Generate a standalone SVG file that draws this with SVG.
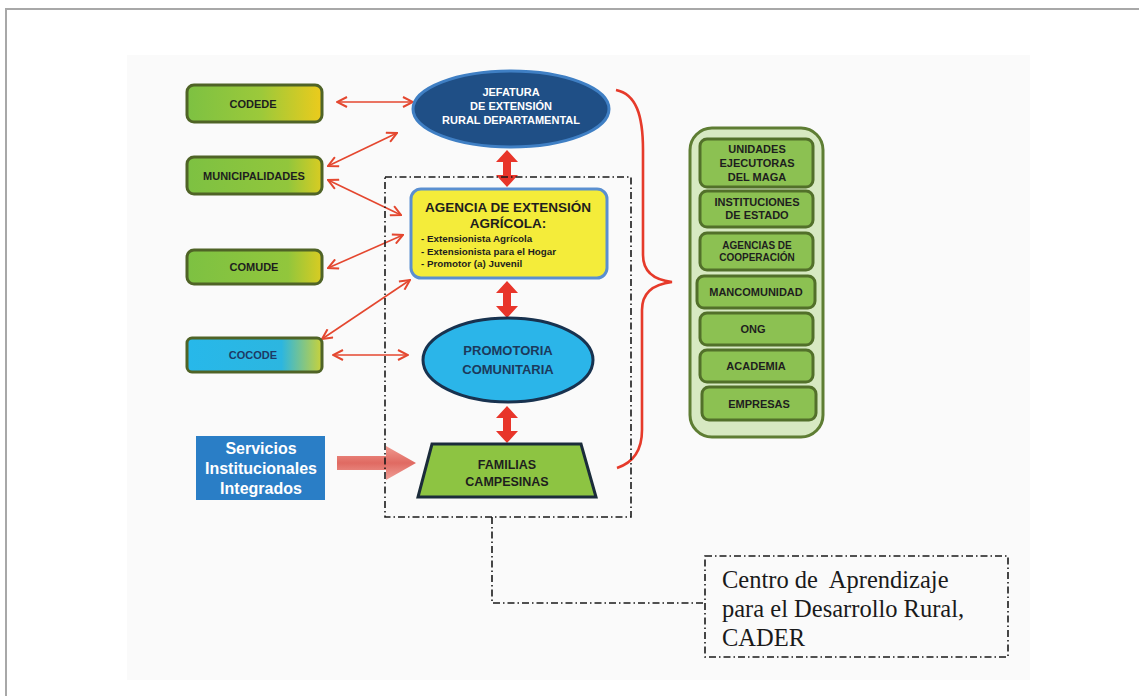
<svg xmlns="http://www.w3.org/2000/svg" width="1139" height="696" viewBox="0 0 1139 696">
<defs>
<style>
.lb{font-family:"Liberation Sans",Arial,sans-serif;font-weight:bold;fill:#1e1e1e;text-anchor:middle}
.sm{font-size:11px}
.gb{stroke:#4f6326;stroke-width:3}
.inner{fill:#8cc152;stroke:#52702a;stroke-width:3}
.thin{fill:none;stroke:#e4472f;stroke-width:1.6;marker-start:url(#ah);marker-end:url(#ah)}
.dd{fill:none;stroke:#1a1a1a;stroke-width:1.6;stroke-dasharray:7 3 1.5 3}
.fat{fill:#e8352a}
.bul{font-family:"Liberation Sans",Arial,sans-serif;font-weight:bold;font-size:9.8px;fill:#1e1e1e}
.cad{font-family:"Liberation Serif","Times New Roman",serif;font-size:24.5px;fill:#1a1a1a}
</style>
<marker id="ah" viewBox="0 0 12 12" refX="11" refY="6" markerWidth="12" markerHeight="12" markerUnits="userSpaceOnUse" orient="auto-start-reverse">
<path d="M1,1 L11,6 L1,11" fill="none" stroke="#e4472f" stroke-width="2"/>
</marker>
<linearGradient id="gy" x1="0" x2="1" y1="0" y2="0">
<stop offset="0" stop-color="#7dc142"/><stop offset="0.55" stop-color="#9cc93a"/><stop offset="1" stop-color="#eccb1c"/>
</linearGradient>
<linearGradient id="gy2" x1="0" x2="1" y1="0" y2="0">
<stop offset="0" stop-color="#7dc142"/><stop offset="0.75" stop-color="#92c63c"/><stop offset="1" stop-color="#d9cc22"/>
</linearGradient>
<linearGradient id="gc" x1="0" x2="1" y1="0" y2="0">
<stop offset="0" stop-color="#27b8ea"/><stop offset="0.7" stop-color="#2cb6e0"/><stop offset="1" stop-color="#c9d23a"/>
</linearGradient>
<linearGradient id="pk" x1="0" x2="0" y1="0" y2="1">
<stop offset="0" stop-color="#f09a90"/><stop offset="0.5" stop-color="#e06a62"/><stop offset="1" stop-color="#f0a098"/>
</linearGradient>
<path id="fatarr" d="M0,0 L11,12 L4,12 L4,25 L11,25 L0,37 L-11,25 L-4,25 L-4,12 L-11,12 Z"/>
</defs>

<rect x="0" y="0" width="1139" height="696" fill="#ffffff"/>
<path d="M6,696 L6,9 L1139,9" fill="none" stroke="#a8a8a8" stroke-width="2"/>
<rect x="127" y="55" width="903" height="625" fill="#fafafa"/>

<g id="connectors">
<line class="thin" x1="337" y1="102" x2="413" y2="102"/>
<line class="thin" x1="328" y1="166" x2="397" y2="133"/>
<line class="thin" x1="328" y1="180" x2="401" y2="215"/>
<line class="thin" x1="328" y1="268" x2="403" y2="235"/>
<line class="thin" x1="322" y1="339" x2="410" y2="280"/>
<line class="thin" x1="333" y1="355" x2="408" y2="355"/>
<use href="#fatarr" class="fat" x="507" y="150"/>
<use href="#fatarr" class="fat" x="507" y="281"/>
<use href="#fatarr" class="fat" x="507" y="406"/>
<path d="M337,456 L386,456 L386,446 L416,463 L386,480 L386,470 L337,470 Z" fill="url(#pk)"/>
<path d="M616,90 C636,94 643,115 643,150 L643,255 C643,272 655,280 672,282 C655,284 642,292 642,310 L642,430 C642,452 632,463 617,468" fill="none" stroke="#e63a2a" stroke-width="2.6"/>
<rect class="dd" x="385" y="177" width="246" height="340"/>
<path class="dd" d="M492,517 L492,603 L705,603"/>
</g>

<g id="codede">
<rect class="gb" x="187" y="85" width="135" height="37" rx="7" fill="url(#gy)"/>
<text class="lb sm" x="253" y="108">CODEDE</text>
</g>
<g id="municipalidades">
<rect class="gb" x="187" y="157" width="135" height="37" rx="7" fill="url(#gy2)"/>
<text class="lb sm" x="254" y="180">MUNICIPALIDADES</text>
</g>
<g id="comude">
<rect class="gb" x="187" y="250" width="135" height="34" rx="7" fill="url(#gy2)"/>
<text class="lb sm" x="254" y="271">COMUDE</text>
</g>
<g id="cocode">
<rect class="gb" x="187" y="338" width="135" height="34" rx="5" fill="url(#gc)"/>
<text class="lb sm" x="253" y="359" style="fill:#1d3a66">COCODE</text>
</g>

<g id="jefatura">
<ellipse cx="511" cy="109" rx="98" ry="38" fill="#1f4f86" stroke="#3f7fc4" stroke-width="3"/>
<text class="lb" font-size="11" style="fill:#ffffff" x="511" y="96">JEFATURA</text>
<text class="lb" font-size="11" style="fill:#ffffff" x="511" y="110">DE EXTENSIÓN</text>
<text class="lb" font-size="11" style="fill:#ffffff" x="511" y="124">RURAL DEPARTAMENTAL</text>
</g>

<g id="agencia">
<rect x="411" y="189" width="196" height="89" rx="10" fill="#f4ec3a" stroke="#5a8fd0" stroke-width="3"/>
<text class="lb" font-size="13.5" x="508" y="212">AGENCIA DE EXTENSIÓN</text>
<text class="lb" font-size="13.5" x="508" y="228">AGRÍCOLA:</text>
<text class="bul" x="421" y="242">- Extensionista Agrícola</text>
<text class="bul" x="421" y="255">- Extensionista para el Hogar</text>
<text class="bul" x="421" y="267">- Promotor (a) Juvenil</text>
</g>

<g id="promotoria">
<ellipse cx="508" cy="360" rx="85" ry="42" fill="#2bb5e9" stroke="#18324f" stroke-width="3"/>
<text class="lb" font-size="13" style="fill:#1c3a5c" x="508" y="355">PROMOTORIA</text>
<text class="lb" font-size="13" style="fill:#1c3a5c" x="508" y="374">COMUNITARIA</text>
</g>

<g id="familias">
<polygon points="432,444 581,444 596,497 418,497" fill="#8dc442" stroke="#1b2c3a" stroke-width="3"/>
<text class="lb" font-size="12.5" x="507" y="469">FAMILIAS</text>
<text class="lb" font-size="12.5" x="507" y="486">CAMPESINAS</text>
</g>

<g id="servicios">
<rect x="196" y="436" width="129" height="64" fill="#2a7ec6"/>
<text class="lb" font-size="16" style="fill:#ffffff" x="261" y="454">Servicios</text>
<text class="lb" font-size="16" style="fill:#ffffff" x="261" y="474">Institucionales</text>
<text class="lb" font-size="16" style="fill:#ffffff" x="261" y="494">Integrados</text>
</g>

<g id="entidades">
<rect x="690" y="128" width="133" height="309" rx="22" fill="#d7e9c2" stroke="#5e7d33" stroke-width="3"/>
<g id="unidades">
<rect class="inner" x="700" y="139" width="113" height="48" rx="7"/>
<text class="lb sm" x="757" y="153">UNIDADES</text>
<text class="lb sm" x="757" y="167">EJECUTORAS</text>
<text class="lb sm" x="757" y="181">DEL MAGA</text>
</g>
<g id="instituciones">
<rect class="inner" x="700" y="191" width="113" height="36" rx="7"/>
<text class="lb sm" x="757" y="206">INSTITUCIONES</text>
<text class="lb sm" x="757" y="219">DE ESTADO</text>
</g>
<g id="agencias">
<rect class="inner" x="700" y="233" width="113" height="37" rx="7"/>
<text class="lb" font-size="10" x="757" y="249">AGENCIAS DE</text>
<text class="lb" font-size="10" x="757" y="261">COOPERACIÓN</text>
</g>
<g id="mancomunidad">
<rect class="inner" x="697" y="276" width="118" height="32" rx="7"/>
<text class="lb sm" x="756" y="296">MANCOMUNIDAD</text>
</g>
<g id="ong">
<rect class="inner" x="700" y="313" width="113" height="32" rx="7"/>
<text class="lb sm" x="753" y="333">ONG</text>
</g>
<g id="academia">
<rect class="inner" x="700" y="350" width="113" height="32" rx="7"/>
<text class="lb sm" x="756" y="370">ACADEMIA</text>
</g>
<g id="empresas">
<rect class="inner" x="702" y="387" width="114" height="33" rx="7"/>
<text class="lb sm" x="759" y="408">EMPRESAS</text>
</g>
</g>

<g id="cader">
<rect class="dd" x="705" y="556" width="303" height="101" fill="#ffffff"/>
<text class="cad" x="722" y="588" xml:space="preserve">Centro de  Aprendizaje</text>
<text class="cad" x="722" y="617">para el Desarrollo Rural,</text>
<text class="cad" x="722" y="646">CADER</text>
</g>
</svg>
